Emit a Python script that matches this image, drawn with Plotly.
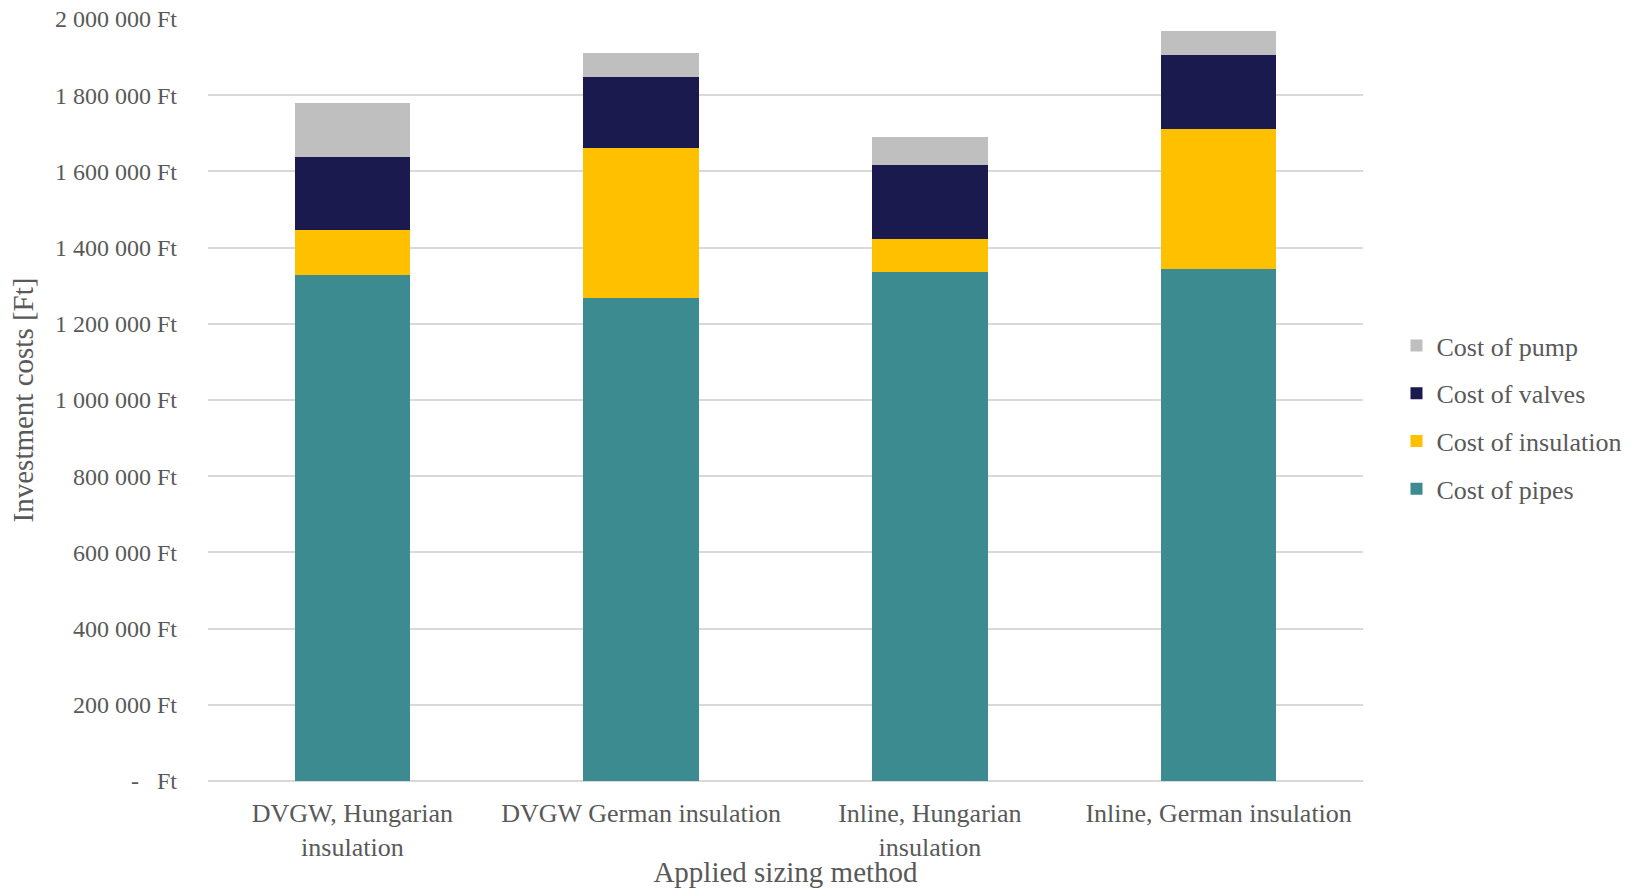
import plotly.graph_objects as go

# Sizing variants and their investment cost breakdown (HUF)
categories = [
    "DVGW, Hungarian<br>insulation",
    "DVGW German insulation",
    "Inline, Hungarian<br>insulation",
    "Inline, German insulation",
]
cost_pipes = [1328000, 1268000, 1336000, 1345000]
cost_insulation = [118000, 394000, 86500, 365500]
cost_valves = [193000, 185000, 193000, 195000]
cost_pump = [140000, 64000, 73500, 63000]

series_names = ["Cost of pipes", "Cost of insulation", "Cost of valves", "Cost of pump"]
series_values = [cost_pipes, cost_insulation, cost_valves, cost_pump]
series_colors = ["#3C8B91", "#FFC000", "#1B1A4E", "#BFBFBF"]
legend_ranks = [4, 3, 2, 1]

tick_values = list(range(0, 2000001, 200000))


def huf_label(v):
    if v == 0:
        return "-\u00a0\u00a0\u00a0Ft"
    return f"{v:,}".replace(",", "\u00a0") + " Ft"


tick_labels = [huf_label(v) for v in tick_values]

FONT = "Palatino Linotype, Book Antiqua, Palatino, Liberation Serif, serif"
TEXT = "#595959"

fig = go.Figure()
for name, vals, color, rank in zip(series_names, series_values, series_colors, legend_ranks):
    fig.add_trace(go.Bar(
        x=categories,
        y=vals,
        name=name,
        legendgroup=name,
        legendrank=rank,
        marker=dict(color=color, line=dict(width=0)),
    ))

fig.update_layout(
    barmode="stack",
    bargap=0.6,
    width=1644,
    height=888,
    margin=dict(l=208, r=281, t=19, b=107),
    paper_bgcolor="white",
    plot_bgcolor="white",
    font=dict(family=FONT, color=TEXT, size=24),
    legend=dict(
        traceorder="grouped",
        tracegroupgap=11,
        x=1.029,
        xanchor="left",
        y=0.477,
        yanchor="middle",
        font=dict(size=26, color=TEXT),
        bgcolor="rgba(0,0,0,0)",
    ),
    xaxis=dict(
        title=dict(text="Applied sizing method", font=dict(size=29), standoff=0),
        tickfont=dict(size=26),
        ticklabelstandoff=14,
        showgrid=False,
        showline=False,
        ticks="",
        automargin=False,
    ),
    yaxis=dict(
        title=dict(text="Investment costs [Ft]", font=dict(size=29), standoff=12),
        range=[0, 2000000],
        tickvals=tick_values,
        ticktext=tick_labels,
        tickfont=dict(size=24),
        ticklabelstandoff=30,
        showgrid=True,
        gridcolor="#D9D9D9",
        gridwidth=1.5,
        zeroline=True,
        zerolinecolor="#D9D9D9",
        zerolinewidth=1.5,
        showline=False,
        ticks="",
        automargin=False,
    ),
)

fig.write_html("out.html")
